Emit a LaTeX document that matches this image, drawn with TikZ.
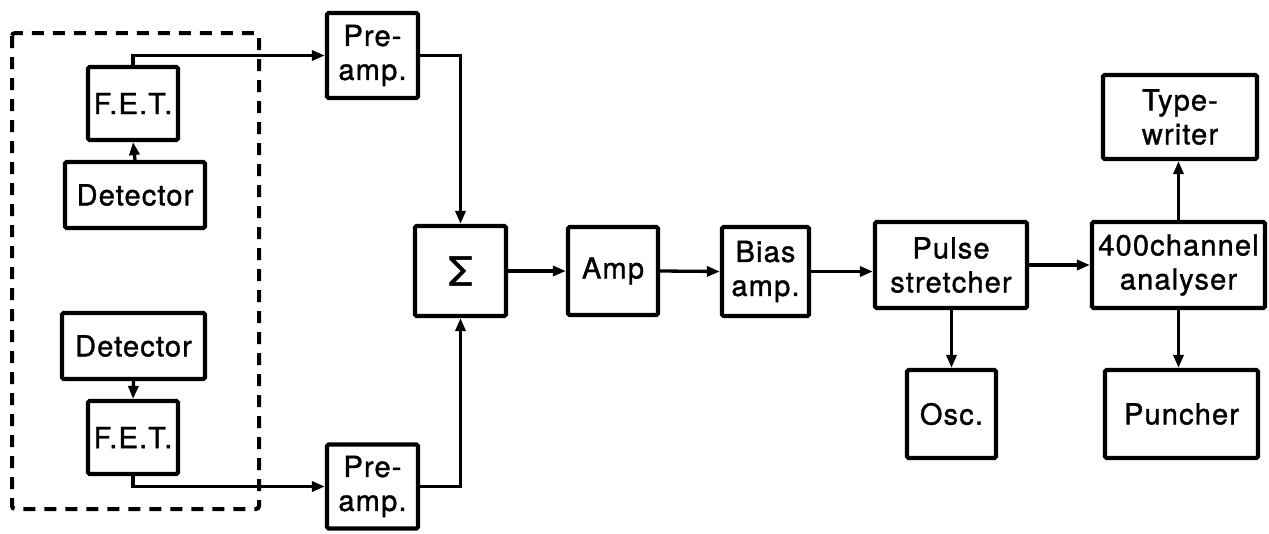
\documentclass[tikz,border=0pt]{standalone}
\usepackage{fontspec}
\setmainfont{TeX Gyre Heros}
\newfontfamily\lblfont[FakeBold=1.2,LetterSpace=4]{TeX Gyre Heros}
\usetikzlibrary{arrows.meta}
\tikzset{
  blk/.style={draw, line width=4.2pt, rectangle, rounded corners=1.5pt, inner sep=0pt, align=center,
    font=\lblfont\fontsize{29}{34}\selectfont},
  conn/.style={line width=3.3pt, -{Triangle[length=13pt,width=10pt]}},
}
\begin{document}
\begin{tikzpicture}[x=1pt,y=-1pt]
\useasboundingbox (0,0) rectangle (1269,533);
\draw[line width=4pt, dash pattern=on 12pt off 9pt, rounded corners=3pt] (12,33) rectangle (259,509);
\node[blk, minimum width=90pt, minimum height=73pt] (fet1) at (133,103.5) {F.E.T.};
\node[blk, minimum width=140pt, minimum height=66pt] (det1) at (135,195) {Detector};
\node[blk, minimum width=143pt, minimum height=66pt] (det2) at (133.5,346) {Detector};
\node[blk, minimum width=90pt, minimum height=73pt] (fet2) at (133,437.5) {F.E.T.};
\node[blk, minimum width=91pt, minimum height=85pt] (pre1) at (372.5,55.5) {Pre-\\amp.};
\node[blk, minimum width=91pt, minimum height=84pt] (pre2) at (372.5,486.5) {Pre-\\amp.};
\node[blk, minimum width=91pt, minimum height=90pt, font=\lblfont\fontsize{40}{40}\selectfont] (sig) at (460.5,271) {Σ};
\node[blk, minimum width=90pt, minimum height=88pt] (amp) at (613,271) {Amp};
\node[blk, minimum width=87pt, minimum height=89pt] (bias) at (765.5,271.5) {Bias\\amp.};
\node[blk, minimum width=152pt, minimum height=86pt] (pulse) at (951,265) {Pulse\\stretcher};
\node[blk, minimum width=173pt, minimum height=86pt] (ana) at (1178.5,265) {400channel\\analyser};
\node[blk, minimum width=154pt, minimum height=84pt] (type) at (1180,117) {Type-\\writer};
\node[blk, minimum width=89pt, minimum height=88pt] (osc) at (951.5,414) {Osc.};
\node[blk, minimum width=153pt, minimum height=88pt] (punch) at (1181.5,414) {Puncher};
\draw[conn] (det1.north) -- (fet1.south);
\draw[conn] (det2.south) -- (fet2.north);
\draw[conn] (fet1.north) |- (pre1.west);
\draw[conn] (fet2.south) |- (pre2.west);
\draw[conn] (pre1.east) -| (sig.north);
\draw[conn] (pre2.east) -| (sig.south);
\draw[conn] (sig.east) -- (amp.west);
\draw[conn] (amp.east) -- (bias.west);
\draw[conn] (bias.east) -- (bias.east -| pulse.west);
\draw[conn] (pulse.east) -- (ana.west);
\draw[conn] (pulse.south) -- (pulse.south -| osc.north) -- (osc.north);
\draw[conn] (ana.north) -- (ana.north |- type.south);
\draw[conn] (ana.south) -- (ana.south |- punch.north);
\end{tikzpicture}
\end{document}
